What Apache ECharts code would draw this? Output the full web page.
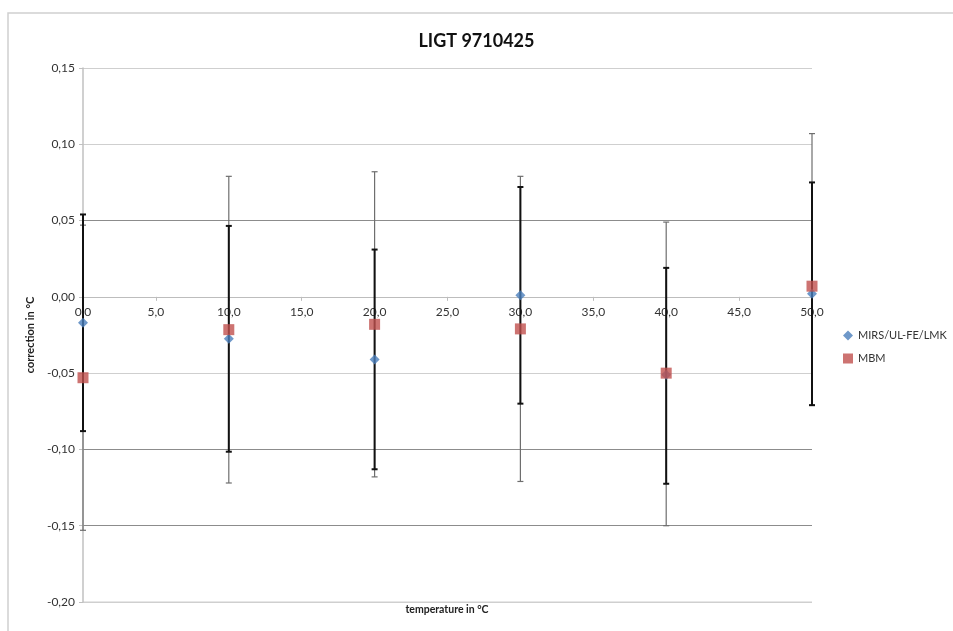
<!DOCTYPE html>
<html>
<head>
<meta charset="utf-8">
<script src="https://cdn.jsdelivr.net/npm/echarts@6/dist/echarts.min.js"></script>
<style>html,body{margin:0;padding:0;background:#fff}#c{width:953px;height:631px}</style>
</head>
<body>
<div id="c"></div>
<script>
// ---- data ----
const temps = [0, 10, 20, 30, 40, 50];
const mirsValues = [-0.017, -0.0275, -0.041, 0.001, -0.051, 0.002];
const mirsHigh   = [0.054, 0.0465, 0.031, 0.072, 0.019, 0.075];
const mirsLow    = [-0.088, -0.1015, -0.113, -0.070, -0.1225, -0.071];
const mbmValues  = [-0.053, -0.0215, -0.018, -0.021, -0.050, 0.007];
const mbmHigh    = [0.047, 0.079, 0.082, 0.079, 0.049, 0.107];
const mbmLow     = [-0.153, -0.122, -0.118, -0.121, -0.150, -0.071];
const seriesNames = ['MIRS/UL-FE/LMK', 'MBM'];
const titleText = 'LIGT 9710425';
const xName = 'temperature in °C';
const yName = 'correction in °C';
const xMin = 0, xMax = 50, xStep = 5;
const yMin = -0.2, yMax = 0.15, yStep = 0.05;

const FONT = 'Lato, "Open Sans", sans-serif';
const chart = echarts.init(document.getElementById('c'));

// plot box (layout)
const gLeft = 83, gRight = 141, gTop = 68, gBottom = 29;
const plotH = 631 - gTop - gBottom;
// height of the upper part of the plot, down to the y = 0 line (where the x axis sits)
const zeroH = plotH * (yMax - 0) / (yMax - yMin);

function errBar(color, width) {
  return function (params, api) {
    const x = api.value(0);
    const lo = api.coord([x, api.value(1)]);
    const hi = api.coord([x, api.value(2)]);
    const cap = 3;
    const style = { stroke: color, lineWidth: width };
    return {
      type: 'group',
      children: [
        { type: 'line', shape: { x1: hi[0], y1: hi[1], x2: lo[0], y2: lo[1] }, style },
        { type: 'line', shape: { x1: hi[0] - cap, y1: hi[1], x2: hi[0] + cap, y2: hi[1] }, style },
        { type: 'line', shape: { x1: lo[0] - cap, y1: lo[1], x2: lo[0] + cap, y2: lo[1] }, style }
      ]
    };
  };
}

const fmtX = v => v.toFixed(1).replace('.', ',');
const fmtY = v => v.toFixed(2).replace('.', ',');

chart.setOption({
  animation: false,
  backgroundColor: '#fff',
  title: {
    text: titleText, left: 'center', top: 27,
    textStyle: { fontFamily: FONT, fontSize: 18, fontWeight: 'bold', color: '#111' }
  },
  legend: {
    orient: 'vertical', left: 838, top: 325, itemGap: 12,
    itemWidth: 10, itemHeight: 10,
    textStyle: { fontFamily: FONT, fontSize: 11, color: '#333' },
    data: [
      { name: seriesNames[0], icon: 'diamond' },
      { name: seriesNames[1], icon: 'rect' }
    ]
  },
  grid: [
    { left: gLeft, right: gRight, top: gTop, bottom: gBottom, containLabel: false },
    { left: gLeft, right: gRight, top: gTop, height: zeroH, containLabel: false }
  ],
  graphic: [
    { type: 'rect', shape: { x: 8, y: 13, width: 980, height: 660 }, style: { fill: 'none', stroke: '#d0d0d0', lineWidth: 1.5 }, silent: true },
    { type: 'text', x: 447, y: 604, style: { text: xName, align: 'center', font: 'bold 10.5px ' + FONT, fill: '#222' } },
    { type: 'line', shape: { x1: gLeft, y1: 631 - gBottom, x2: 953 - gRight, y2: 631 - gBottom }, style: { stroke: '#cfcfcf', lineWidth: 1.2 }, silent: true }
  ],
  xAxis: [
    {
      gridIndex: 0, type: 'value', min: xMin, max: xMax, interval: xStep,
      axisLine: { show: false }, axisTick: { show: false }, axisLabel: { show: false },
      splitLine: { show: false }
    },
    {
      gridIndex: 1, type: 'value', min: xMin, max: xMax, interval: xStep, position: 'bottom',
      axisLine: { show: true, onZero: false, lineStyle: { color: '#bdbdbd', width: 1.2 } },
      axisTick: { show: true, length: 4, lineStyle: { color: '#bdbdbd' } },
      axisLabel: { formatter: fmtX, fontFamily: FONT, fontSize: 12, color: '#333', margin: 9 },
      splitLine: { show: false }
    }
  ],
  yAxis: [
    {
      gridIndex: 0, type: 'value', min: yMin, max: yMax, interval: yStep,
      name: yName, nameLocation: 'middle', nameGap: 45,
      nameTextStyle: { fontFamily: FONT, fontSize: 11, fontWeight: 'bold', color: '#222' },
      axisLine: { show: true, onZero: false, lineStyle: { color: '#c0c0c0', width: 1.5 } },
      axisTick: { show: true, length: 4, lineStyle: { color: '#c0c0c0' } },
      axisLabel: { formatter: fmtY, fontFamily: FONT, fontSize: 12, color: '#333', margin: 8 },
      splitLine: { show: true, lineStyle: { color: ['#cfcfcf', '#8c8c8c', '#8c8c8c', '#cfcfcf', '#cfcfcf', '#8c8c8c', '#cfcfcf', '#cfcfcf'], width: 1.2 } }
    },
    {
      gridIndex: 1, type: 'value', min: 0, max: yMax, show: false
    }
  ],
  series: [
    {
      type: 'custom', name: 'mbmErr', renderItem: errBar('#6e6e6e', 1.2), clip: false, z: 2,
      xAxisIndex: 0, yAxisIndex: 0,
      data: temps.map((t, i) => [t, mbmLow[i], mbmHigh[i]]), encode: { x: 0, y: [1, 2] }, silent: true
    },
    {
      type: 'custom', name: 'mirsErr', renderItem: errBar('#111', 2), clip: false, z: 3,
      xAxisIndex: 0, yAxisIndex: 0,
      data: temps.map((t, i) => [t, mirsLow[i], mirsHigh[i]]), encode: { x: 0, y: [1, 2] }, silent: true
    },
    {
      type: 'scatter', name: seriesNames[0], symbol: 'diamond', symbolSize: 10, z: 4,
      xAxisIndex: 0, yAxisIndex: 0,
      itemStyle: { color: '#4a7ebb' },
      data: temps.map((t, i) => [t, mirsValues[i]])
    },
    {
      type: 'scatter', name: seriesNames[1], symbol: 'rect', symbolSize: 11, z: 5,
      xAxisIndex: 0, yAxisIndex: 0,
      itemStyle: { color: '#c0504d' },
      data: temps.map((t, i) => [t, mbmValues[i]])
    }
  ]
});
</script>
</body>
</html>
